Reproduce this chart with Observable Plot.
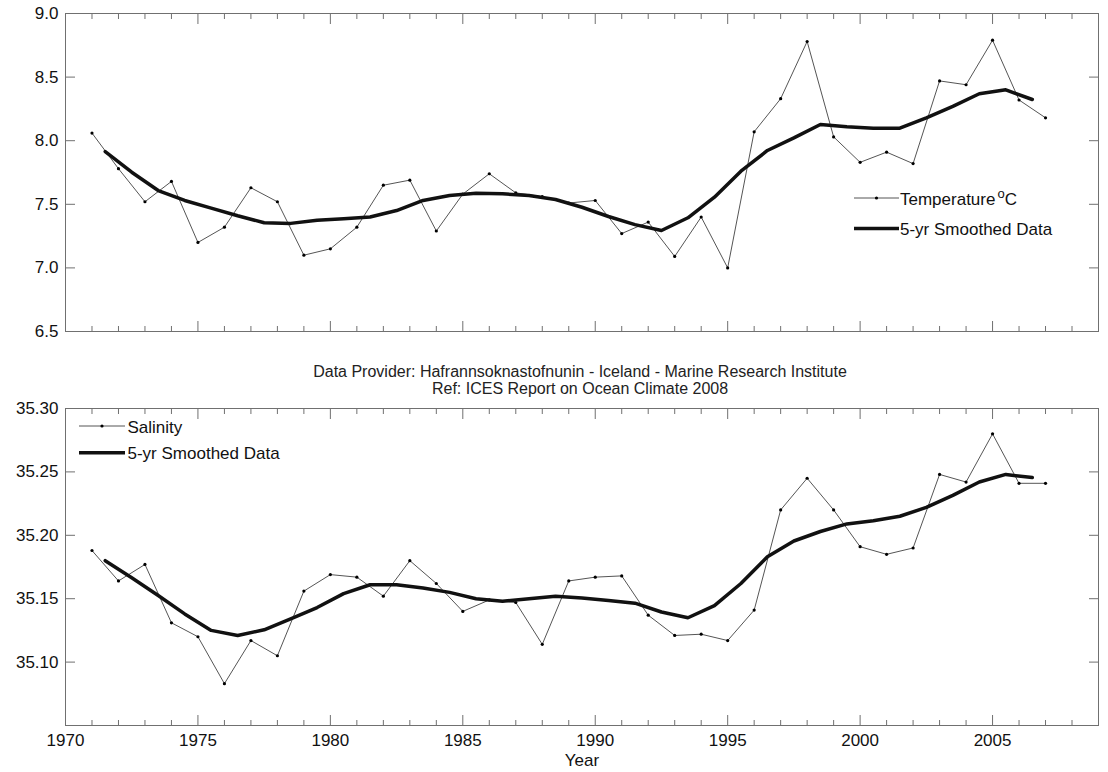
<!DOCTYPE html>
<html><head><meta charset="utf-8">
<script src="https://cdn.jsdelivr.net/npm/d3@7"></script>
<script src="https://cdn.jsdelivr.net/npm/@observablehq/plot@0.6"></script>
<style>
body{margin:0;background:#fff;font-family:"Liberation Sans",Arial,sans-serif;}
#wrap{position:relative;width:1108px;height:772px;overflow:hidden;background:#fff;}
#top{position:absolute;left:0;top:0;}
#bot{position:absolute;left:0;top:395px;}
#sub{position:absolute;left:80px;width:1000px;top:363px;text-align:center;font-size:16px;line-height:17px;color:#222;z-index:2;}
</style></head>
<body>
<div id="wrap">
  <div id="top"></div>
  <div id="sub">Data Provider: Hafrannsoknastofnunin - Iceland - Marine Research Institute<br>Ref: ICES Report on Ocean Climate 2008</div>
  <div id="bot"></div>
</div>
<script>
// ---- data ----
const years = [1971,1972,1973,1974,1975,1976,1977,1978,1979,1980,1981,1982,1983,1984,1985,1986,1987,1988,1989,1990,
  1991,1992,1993,1994,1995,1996,1997,1998,1999,2000,2001,2002,2003,2004,2005,2006,2007];
const temperature = [8.06,7.78,7.52,7.68,7.20,7.32,7.63,7.52,7.10,7.15,7.32,7.65,7.69,7.29,7.58,7.74,7.59,7.56,7.51,7.53,
  7.27,7.36,7.09,7.40,7.00,8.07,8.33,8.78,8.03,7.83,7.91,7.82,8.47,8.44,8.79,8.32,8.18];
const salinity = [35.188,35.164,35.177,35.131,35.120,35.083,35.117,35.105,35.156,35.169,35.167,35.152,35.180,35.162,35.140,
  35.149,35.147,35.114,35.164,35.167,35.168,35.137,35.121,35.122,35.117,35.141,35.220,35.245,35.220,35.191,35.185,35.190,
  35.248,35.242,35.280,35.241,35.241];
const smoothYears = [1971.5,1972.5,1973.5,1974.5,1975.5,1976.5,1977.5,1978.5,1979.5,1980.5,1981.5,1982.5,1983.5,1984.5,
  1985.5,1986.5,1987.5,1988.5,1989.5,1990.5,1991.5,1992.5,1993.5,1994.5,1995.5,1996.5,1997.5,1998.5,1999.5,2000.5,2001.5,
  2002.5,2003.5,2004.5,2005.5,2006.5];
const tempSmooth = [7.915,7.752,7.608,7.53,7.47,7.41,7.355,7.35,7.375,7.386,7.40,7.451,7.53,7.569,7.587,7.582,7.569,7.538,
  7.477,7.404,7.34,7.294,7.394,7.556,7.76,7.923,8.022,8.127,8.11,8.098,8.098,8.18,8.27,8.369,8.40,8.324];
const salSmooth = [35.180,35.1665,35.1525,35.138,35.125,35.121,35.1255,35.134,35.143,35.154,35.161,35.161,35.1585,35.155,
  35.150,35.148,35.150,35.152,35.1505,35.1485,35.1465,35.1395,35.135,35.1445,35.162,35.183,35.1955,35.203,35.209,35.2115,
  35.215,35.222,35.2315,35.242,35.248,35.2455];
const xDomain = [1970, 2009];
const minorYears = [1971,1972,1973,1974,1976,1977,1978,1979,1981,1982,1983,1984,1986,1987,1988,1989,1991,1992,1993,1994,
  1996,1997,1998,1999,2001,2002,2003,2004,2006,2007,2008];
const majorYears = [1975,1980,1985,1990,1995,2000,2005];
const xLabelYears = [1970,1975,1980,1985,1990,1995,2000,2005];
const tempDomain = [6.5, 9.0];
const tempTickLabels = [6.5,7.0,7.5,8.0,8.5,9.0];
const tempInnerTicks = [7.0,7.5,8.0,8.5];
const salDomain = [35.05, 35.30];
const salTickLabels = [35.10,35.15,35.20,35.25,35.30];
const salInnerTicks = [35.10,35.15,35.20,35.25];

// ---- drawing ----
const FONT = '"Liberation Sans", Arial, sans-serif';
const FRAME = "#707070";
const rows = (xs, vs) => xs.map((x, i) => ({year: x, value: vs[i]}));

function panel(o) {
  return Plot.plot({
    width: 1108, height: o.height,
    marginLeft: 65, marginRight: 10, marginTop: o.marginTop, marginBottom: o.marginBottom,
    style: {fontFamily: FONT, fontSize: "17px", color: "#111", background: "transparent", overflow: "visible"},
    x: {domain: xDomain, label: null},
    y: {domain: o.yDomain, label: null},
    marks: [
      Plot.axisY(o.yLabels, {anchor: "left", tickSize: 0, tickPadding: 7, tickFormat: d3.format(o.fmt), fontSize: 17, label: null}),
      // inward ticks (drawn outward, then shifted into the frame)
      Plot.axisY(o.yInner, {anchor: "left", tickSize: 10, dx: 10, text: null, stroke: FRAME, label: null}),
      Plot.axisY(o.yInner, {anchor: "right", tickSize: 10, dx: -10, text: null, stroke: FRAME, label: null}),
      Plot.axisX(minorYears, {anchor: "bottom", tickSize: 5, dy: -5, text: null, stroke: FRAME, label: null}),
      Plot.axisX(majorYears, {anchor: "bottom", tickSize: 10, dy: -10, text: null, stroke: FRAME, label: null}),
      Plot.axisX(minorYears, {anchor: "top", tickSize: 5, dy: 5, text: null, stroke: FRAME, label: null}),
      Plot.axisX(majorYears, {anchor: "top", tickSize: 10, dy: 10, text: null, stroke: FRAME, label: null}),
      o.showX ? Plot.axisX(xLabelYears, {anchor: "bottom", tickSize: 0, tickPadding: 8, tickFormat: d => String(d), fontSize: 17, label: null}) : null,
      o.showX ? Plot.text(["Year"], {frameAnchor: "bottom", dy: 40, text: d => d, lineAnchor: "bottom", fontSize: 17, fill: "#111"}) : null,
      Plot.frame({stroke: FRAME, strokeWidth: 1}),
      Plot.line(o.obs, {x: "year", y: "value", stroke: "#555", strokeWidth: 1}),
      Plot.dot(o.obs, {x: "year", y: "value", r: 1.6, fill: "#000", stroke: "none"}),
      Plot.line(o.smooth, {x: "year", y: "value", stroke: "#111", strokeWidth: 3.5, strokeLinejoin: "round"})
    ]
  });
}

function legend(svgEl, x0, x1, tx, items) {
  const svg = d3.select(svgEl);
  const g = svg.append("g").attr("font-family", FONT).attr("font-size", 17).attr("fill", "#111")
    .attr("text-anchor", "start");
  items.forEach(it => {
    g.append("line").attr("x1", x0).attr("x2", x1).attr("y1", it.y).attr("y2", it.y)
      .attr("stroke", it.thick ? "#111" : "#555").attr("stroke-width", it.thick ? 3.5 : 1);
    if (!it.thick) g.append("circle").attr("cx", (x0 + x1) / 2).attr("cy", it.y).attr("r", 1.6).attr("fill", "#000");
    const t = g.append("text").attr("x", tx).attr("y", it.y + 6.5).attr("text-anchor", "start");
    t.append("tspan").text(it.label);
    if (it.sup) {
      t.append("tspan").attr("dx", 2).attr("dy", -7).attr("font-size", 13).text(it.sup);
      t.append("tspan").attr("dy", 7).text(it.after);
    }
  });
}

const topPlot = panel({height: 340, marginTop: 13, marginBottom: 9, yDomain: tempDomain, yLabels: tempTickLabels,
  yInner: tempInnerTicks, fmt: ".1f", obs: rows(years, temperature), smooth: rows(smoothYears, tempSmooth), showX: false});
legend(topPlot, 854, 899, 900, [
  {y: 198, label: "Temperature", sup: "o", after: "C"},
  {y: 228.5, label: "5-yr Smoothed Data", thick: true}
]);
document.getElementById("top").appendChild(topPlot);

const botPlot = panel({height: 377, marginTop: 13, marginBottom: 47, yDomain: salDomain, yLabels: salTickLabels,
  yInner: salInnerTicks, fmt: ".2f", obs: rows(years, salinity), smooth: rows(smoothYears, salSmooth), showX: true});
legend(botPlot, 79, 125, 127.5, [
  {y: 31, label: "Salinity"},
  {y: 57.7, label: "5-yr Smoothed Data", thick: true}
]);
document.getElementById("bot").appendChild(botPlot);
</script>
</body></html>
